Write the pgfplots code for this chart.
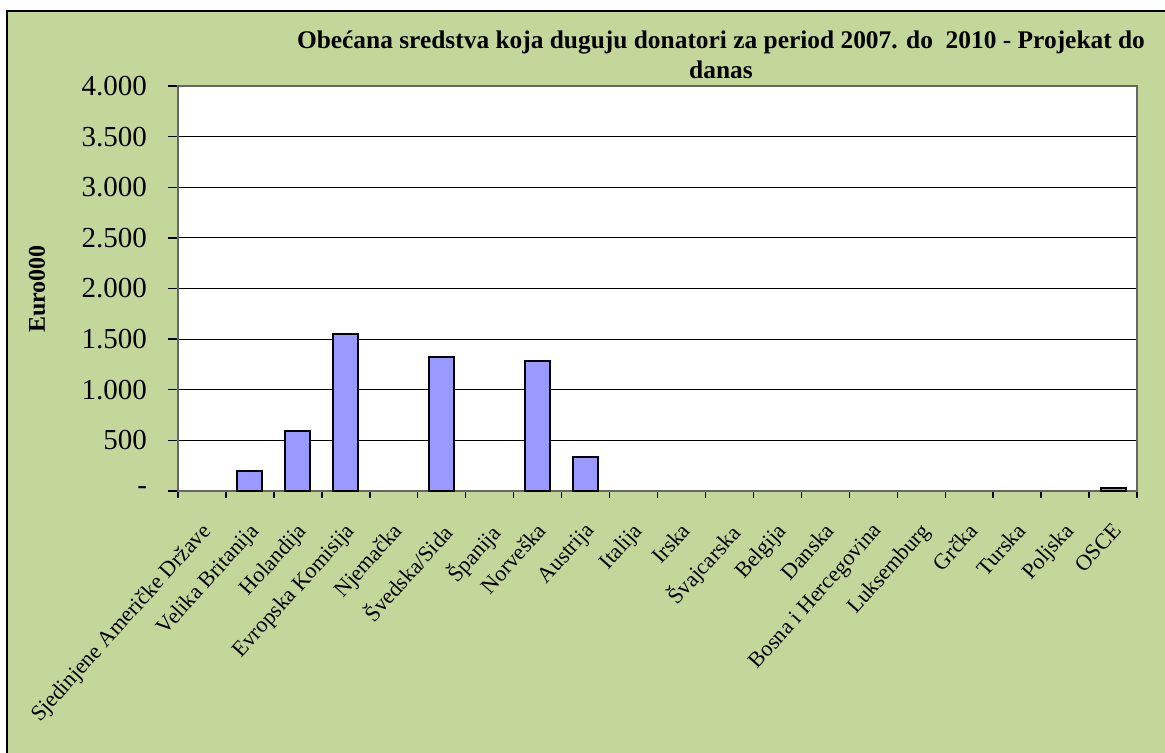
\documentclass[border=0pt]{standalone}
\usepackage{pgfplots}
\pgfplotsset{compat=1.18}
\usepackage{fontspec}
\setmainfont{Liberation Serif}
\definecolor{pozadina}{HTML}{C4D79B}
\definecolor{stupac}{HTML}{9999FF}
\begin{document}
\begin{tikzpicture}[x=0.5pt,y=0.5pt]
\path[use as bounding box,fill=white] (0,0) rectangle (1165,752);
\draw[fill=pozadina,line width=0.7pt] (7,-5) rectangle (1175,741);
\node[font=\bfseries\fontsize{12.7}{15}\selectfont,align=center] at (721,697) {Obećana sredstva koja duguju donatori za period 2007. do\ \ 2010 - Projekat do\\danas};
\node[font=\bfseries\fontsize{12}{14}\selectfont,rotate=90] at (37,463) {Euro000};
\begin{axis}[at={(89pt,130.5pt)},anchor=south west,scale only axis,
  width=479.5pt,height=202.5pt,
  xmin=0,xmax=20,ymin=0,ymax=4000,
  axis background/.style={fill=white},
  axis line style={draw=black!60,line width=0.7pt},
  ymajorgrids,grid style={black,line width=0.5pt},
  ytick={0,500,...,4000},
  yticklabels={-,500,1.000,1.500,2.000,2.500,3.000,3.500,4.000},
  y tick label style={font=\fontsize{14.5}{16}\selectfont,xshift=-7pt},
  tick pos=left,
  tick align=outside,major tick length=5pt,minor tick length=3.5pt,
  tick style={black,line width=0.7pt},
  xtick={0.5,1.5,...,19.5},
  major x tick style={draw=none},
  minor xtick={0,1,...,20},
  minor x tick style={black,line width=0.7pt},
  xticklabels={Sjedinjene Američke Države,Velika Britanija,Holandija,Evropska Komisija,Njemačka,Švedska/Sida,Španija,Norveška,Austrija,Italija,Irska,Švajcarska,Belgija,Danska,Bosna i Hercegovina,Luksemburg,Grčka,Turska,Poljska,OSCE},
  x tick label style={rotate=48,anchor=north east,font=\fontsize{11.1}{13}\selectfont,inner sep=1pt,xshift=-7pt,yshift=-5pt},
]
\addplot[ybar,bar width=12.5pt,fill=stupac,draw=black,line width=1pt] coordinates {
(1.5,200) (2.5,590) (3.5,1555) (5.5,1320) (7.5,1285) (8.5,340) (19.5,25)};
\end{axis}
\end{tikzpicture}
\end{document}
